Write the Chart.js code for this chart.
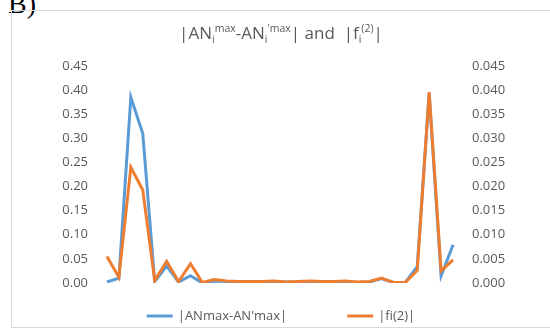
<!DOCTYPE html>
<html>
<head>
<meta charset="utf-8">
<script src="https://cdn.jsdelivr.net/npm/chart.js@4.4.1/dist/chart.umd.min.js"></script>
<style>
  html, body { margin: 0; padding: 0; background: #fff; overflow: hidden; }
  body { width: 550px; height: 329px; position: relative; }
  #panelTag {
    position: absolute; left: 8px; top: -12px;
    font-family: "Liberation Serif", serif; font-size: 28px; line-height: 32px; color: #000;
  }
  #box {
    position: absolute; left: 11px; top: 10px; width: 540px; height: 318px;
    border: 1px solid #d9d9d9; box-sizing: border-box;
  }
  #titulo {
    position: absolute; left: 11px; width: 540px; top: 21px; text-align: center;
    font-family: "Open Sans", sans-serif; font-size: 17px; color: #595959; white-space: nowrap;
  }
  #titulo sub, #titulo sup { font-size: 10.5px; line-height: 0; }
  #grafico { position: absolute; left: 12px; top: 11px; }
</style>
</head>
<body>
<div id="panelTag">B)</div>
<div id="box"></div>
<canvas id="grafico" width="538" height="317"></canvas>
<div id="titulo">|AN<sub>i</sub><sup>max</sup>-AN<sub>i</sub><sup>'max</sup>| and &nbsp;|f<sub>i</sub><sup>(2)</sup>|</div>
<script>
// categorías (posiciones i = 1..30)
const categorias = Array.from({ length: 30 }, (_, i) => String(i + 1));

// |ANmax - AN'max|  (eje izquierdo)
const difAN = [0.002, 0.010, 0.385, 0.310, 0.003, 0.035, 0.002, 0.015, 0.000, 0.004,
               0.003, 0.002, 0.002, 0.002, 0.003, 0.002, 0.002, 0.003, 0.002, 0.002,
               0.002, 0.001, 0.002, 0.009, 0.001, 0.001, 0.034, 0.392, 0.015, 0.079];

// |fi(2)|  (eje derecho)
const fi2 = [0.0055, 0.0012, 0.0240, 0.0193, 0.0005, 0.0045, 0.0003, 0.0040, 0.0001, 0.0007,
             0.0004, 0.0003, 0.0003, 0.0003, 0.0004, 0.0002, 0.0003, 0.0004, 0.0003, 0.0003,
             0.0004, 0.0002, 0.0003, 0.0010, 0.0001, 0.0001, 0.0026, 0.0396, 0.0025, 0.0048];

const etiquetas = ["|ANmax-AN'max|", "|fi(2)|"];
const colores = ['#5B9BD5', '#ED7D31'];

const FUENTE = { family: '"Open Sans", sans-serif', size: 13 };
const GRIS = '#595959';

// leyenda propia: muestra de línea + texto, centrada bajo el gráfico
const leyendaLineas = {
  id: 'leyendaLineas',
  afterDraw(chart) {
    const ctx = chart.ctx;
    ctx.save();
    ctx.font = `${FUENTE.size}px ${FUENTE.family}`;
    const muestra = 26, sep = 5, hueco = 60;
    const items = chart.data.datasets.map(ds => ({
      texto: ds.label, color: ds.borderColor,
      ancho: muestra + sep + ctx.measureText(ds.label).width
    }));
    const total = items.reduce((s, it) => s + it.ancho, 0) + hueco * (items.length - 1);
    let x = (chart.width - total) / 2;
    const y = 305;
    items.forEach(it => {
      ctx.strokeStyle = it.color;
      ctx.lineWidth = 3;
      ctx.beginPath();
      ctx.moveTo(x, y);
      ctx.lineTo(x + muestra, y);
      ctx.stroke();
      ctx.fillStyle = GRIS;
      ctx.textBaseline = 'middle';
      ctx.fillText(it.texto, x + muestra + sep, y);
      x += it.ancho + hueco;
    });
    ctx.restore();
  }
};

new Chart(document.getElementById('grafico'), {
  type: 'line',
  data: {
    labels: categorias,
    datasets: [
      // la serie naranja se pinta encima (order menor)
      { label: etiquetas[0], data: difAN, yAxisID: 'yIzq', borderColor: colores[0], order: 1,
        backgroundColor: colores[0], borderWidth: 3, pointRadius: 0, tension: 0 },
      { label: etiquetas[1], data: fi2, yAxisID: 'yDer', borderColor: colores[1], order: 0,
        backgroundColor: colores[1], borderWidth: 3, pointRadius: 0, tension: 0 }
    ]
  },
  options: {
    responsive: false,
    animation: false,
    layout: { padding: { top: 55, bottom: 45, left: 0, right: 0 } },
    plugins: { legend: { display: false }, title: { display: false }, tooltip: { enabled: false } },
    scales: {
      x: { display: false, offset: true },
      yIzq: {
        position: 'left', min: 0, max: 0.45,
        grid: { display: false, drawTicks: false }, border: { display: false },
        ticks: { stepSize: 0.05, padding: 13, color: GRIS, font: FUENTE,
                 callback: v => v.toFixed(2) },
        afterFit(s) { s.width = 89; }
      },
      yDer: {
        position: 'right', min: 0, max: 0.045,
        grid: { display: false, drawTicks: false }, border: { display: false },
        ticks: { stepSize: 0.005, padding: 13, color: GRIS, font: FUENTE,
                 callback: v => v.toFixed(3) },
        afterFit(s) { s.width = 91; }
      }
    }
  },
  plugins: [leyendaLineas]
});
</script>
</body>
</html>
